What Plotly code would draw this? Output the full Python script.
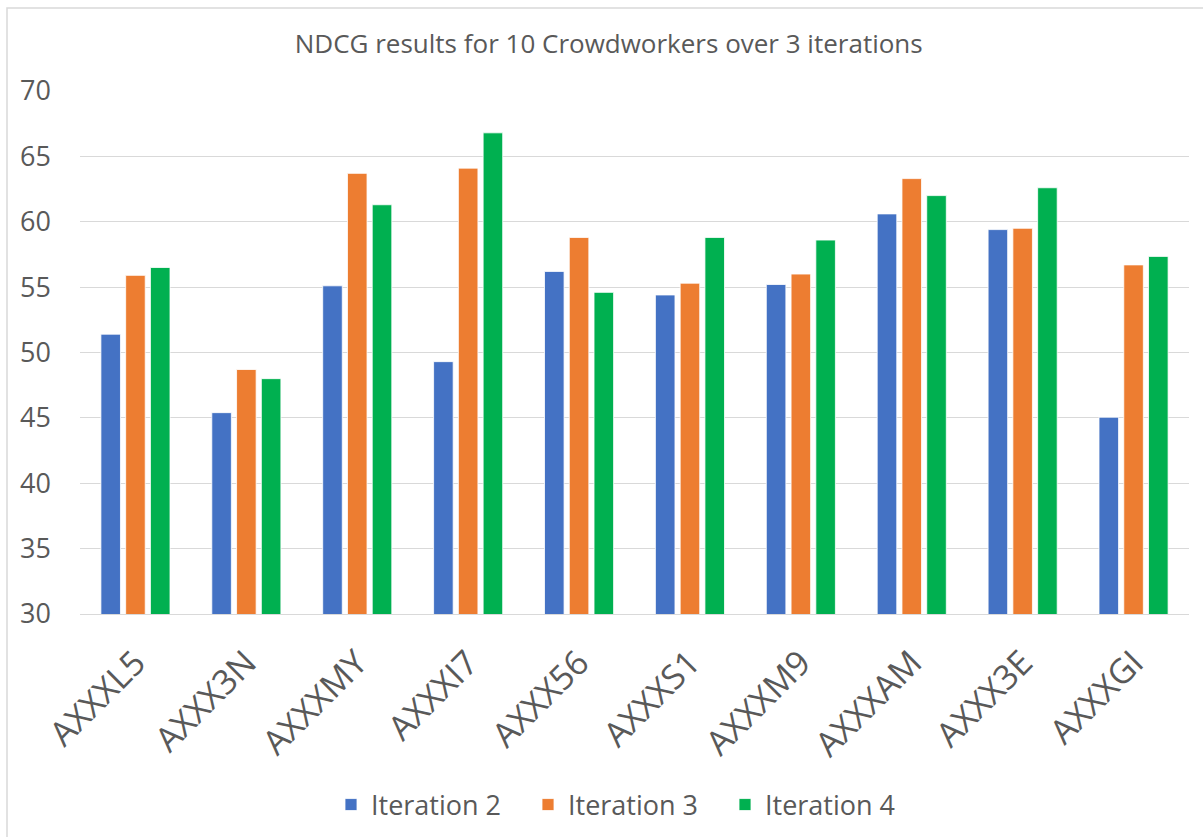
import plotly.graph_objects as go

workers = ["AXXXL5", "AXXX3N", "AXXXMY", "AXXXI7", "AXXX56",
           "AXXXS1", "AXXXM9", "AXXXAM", "AXXX3E", "AXXXGI"]
iteration2 = [51.4, 45.4, 55.1, 49.3, 56.2, 54.4, 55.2, 60.6, 59.4, 45.05]
iteration3 = [55.9, 48.7, 63.7, 64.1, 58.8, 55.3, 56.0, 63.3, 59.5, 56.7]
iteration4 = [56.5, 48.0, 61.3, 66.8, 54.6, 58.8, 58.6, 62.0, 62.6, 57.35]
series_names = ["Iteration 2", "Iteration 3", "Iteration 4"]
colors = ["#4472C4", "#ED7D31", "#00B050"]

FONT = "Open Sans"
TXT = "#595959"

fig = go.Figure()
for name, vals, col in zip(series_names, [iteration2, iteration3, iteration4], colors):
    fig.add_trace(go.Bar(
        x=workers, y=vals, name=name,
        marker=dict(color=col, line=dict(color="white", width=0.8)),
    ))

W, H = 1203, 837
L, R, T, B = 80, 14, 91, 223
pw = W - L - R
ph = H - T - B

fig.update_layout(
    width=W, height=H,
    margin=dict(l=L, r=R, t=T, b=B, autoexpand=False),
    paper_bgcolor="white", plot_bgcolor="white",
    barmode="group", bargap=0.33, bargroupgap=0.21,
    title=dict(text="NDCG results for 10 Crowdworkers over 3 iterations",
               x=0.506, xanchor="center", xref="container",
               y=1 - 44 / H, yanchor="middle", yref="container",
               font=dict(family=FONT, size=26, color=TXT)),
    font=dict(family=FONT, color=TXT),
    legend=dict(orientation="h", x=(331 - L) / pw, xanchor="left",
                y=(ph - (805 - T)) / ph, yanchor="middle",
                font=dict(family=FONT, size=27, color=TXT),
                entrywidth=152, entrywidthmode="pixels",
                itemwidth=30, traceorder="normal"),
    showlegend=True,
)

fig.update_yaxes(range=[30, 70], dtick=5, tick0=30,
                 showgrid=True, gridcolor="#D9D9D9", gridwidth=1.2,
                 zeroline=False, showline=False,
                 ticks="", ticklabelstandoff=28,
                 tickfont=dict(family=FONT, size=27, color=TXT))
fig.update_xaxes(showgrid=False, showline=True, linecolor="#D9D9D9", linewidth=1.2,
                 tickangle=-45, ticks="outside", ticklen=14, tickcolor="rgba(0,0,0,0)",
                 tickfont=dict(family=FONT, size=34, color=TXT))

# chart area border (top and left edges visible)
fig.add_shape(type="rect", xref="paper", yref="paper",
              x0=(7 - L) / pw, x1=(W + 10 - L) / pw,
              y0=(ph - (H + 10 - T)) / ph, y1=(ph - (8 - T)) / ph,
              line=dict(color="#D9D9D9", width=1.5), fillcolor="rgba(0,0,0,0)",
              layer="below")

fig.write_html("out.html")
